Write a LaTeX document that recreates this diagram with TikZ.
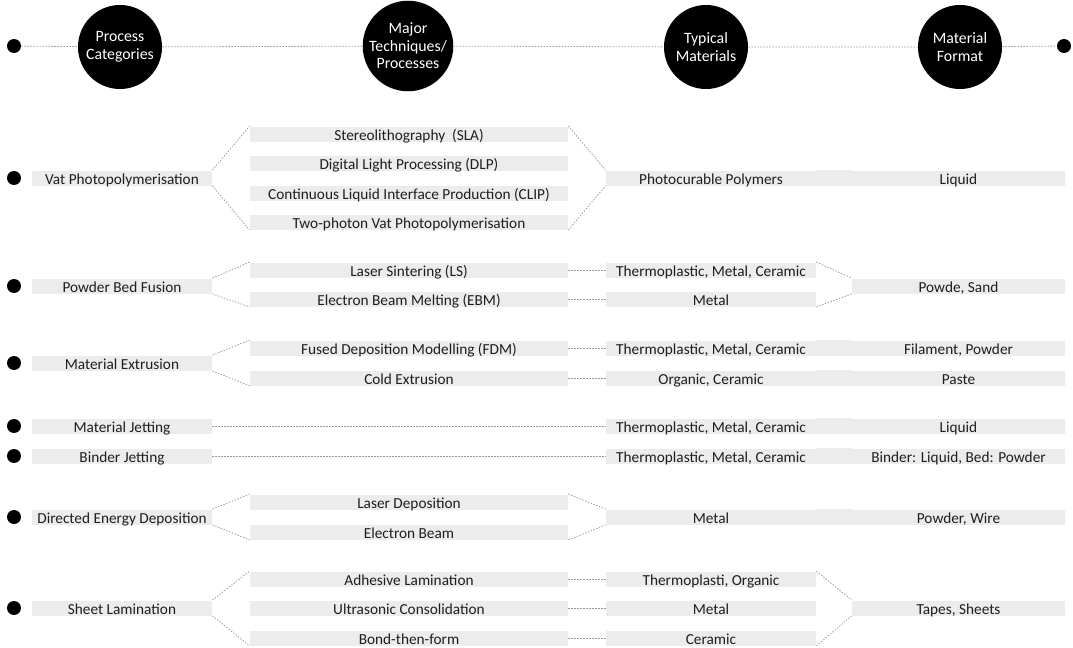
\documentclass[tikz,border=0pt]{standalone}
\usepackage{fontspec}
\setmainfont{Carlito}
\definecolor{barfill}{HTML}{ECECEC}
\definecolor{inkgray}{HTML}{1E1E1E}
\begin{document}
\begin{tikzpicture}[
    x=0.5pt, y=-0.5pt,
    every node/.style={font=\fontsize{7.65}{8.5}\selectfont, text=inkgray},
    catbox/.style={fill=barfill, minimum width=90pt, minimum height=7.5pt, inner sep=0pt, text height=6.4pt, text depth=0.3pt},
    techbox/.style={fill=barfill, minimum width=159pt, minimum height=7.5pt, inner sep=0pt, text height=6.4pt, text depth=0.3pt},
    matbox/.style={fill=barfill, minimum width=105pt, minimum height=7.5pt, inner sep=0pt, text height=6.4pt, text depth=0.3pt},
    fmtbox/.style={fill=barfill, minimum width=106.5pt, minimum height=7.5pt, inner sep=0pt, text height=6.4pt, text depth=0.3pt},
    headcircle/.style={circle, fill=black, minimum size=42pt, inner sep=0pt, align=center, text=white, font=\fontsize{7.9}{8.8}\selectfont},
    dot/.style={circle, fill=black, minimum size=7pt, inner sep=0pt},
    link/.style={gray!80, line width=0.4pt, dash pattern=on 0.7pt off 0.8pt},
]
\useasboundingbox (0,0) rectangle (1073,648);

% Header row
\node[dot] (ldot) at (14,46) {};
\node[dot] (rdot) at (1064,46) {};
\node[headcircle] (hcat) at (120,47) {Process\\Categories};
\node[headcircle] (htech) at (408,46) {Major\\Techniques/\\Processes};
\node[headcircle] (hmat) at (706,47) {Typical\\Materials};
\node[headcircle] (hfmt) at (960,47) {Material\\Format};
\draw[link] (ldot) -- (hcat) -- (htech) -- (hmat) -- (hfmt) -- (rdot);

% Vat photopolymerisation
\node[dot] (d1) at (14,178) {};
\node[catbox] (vat) at (122,178) {Vat Photopolymerisation};
\node[techbox] (sla) at (409,134) {Stereolithography~ (SLA)};
\node[techbox] (dlp) at (409,163) {Digital Light Processing (DLP)};
\node[techbox] (clip) at (409,193) {Continuous Liquid Interface Production (CLIP)};
\node[techbox] (tpp) at (409,222) {Two-photon Vat Photopolymerisation};
\node[matbox] (vatmat) at (711,178) {Photocurable Polymers};
\node[fmtbox] (vatfmt) at (958.5,178) {Liquid};
\fill[barfill] (vatmat.north east) rectangle (vatfmt.south west);
\draw[link] (vat.north east) -- (sla.north west);
\draw[link] (vat.south east) -- (tpp.south west);
\draw[link] (sla.north east) -- (vatmat.north west);
\draw[link] (tpp.south east) -- (vatmat.south west);

% Powder bed fusion
\node[dot] (d2) at (14,286) {};
\node[catbox] (pbf) at (122,286) {Powder Bed Fusion};
\node[techbox] (ls) at (409,270) {Laser Sintering (LS)};
\node[techbox] (ebm) at (409,299) {Electron Beam Melting (EBM)};
\node[matbox] (lsmat) at (711,270) {Thermoplastic, Metal, Ceramic};
\node[matbox] (ebmmat) at (711,299) {Metal};
\node[fmtbox] (pbffmt) at (958.5,286) {Powde, Sand};
\draw[link] (pbf.north east) -- (ls.north west);
\draw[link] (pbf.south east) -- (ebm.south west);
\draw[link] (ls) -- (lsmat);
\draw[link] (ebm) -- (ebmmat);
\draw[link] (lsmat.north east) -- (pbffmt.north west);
\draw[link] (ebmmat.south east) -- (pbffmt.south west);

% Material extrusion
\node[dot] (d3) at (14,363) {};
\node[catbox] (mex) at (122,363) {Material Extrusion};
\node[techbox] (fdm) at (409,348) {Fused Deposition Modelling (FDM)};
\node[techbox] (cold) at (409,378) {Cold Extrusion};
\node[matbox] (fdmmat) at (711,348) {Thermoplastic, Metal, Ceramic};
\node[matbox] (coldmat) at (711,378) {Organic, Ceramic};
\node[fmtbox] (fdmfmt) at (958.5,348) {Filament, Powder};
\node[fmtbox] (coldfmt) at (958.5,378) {Paste};
\fill[barfill] (fdmmat.north east) rectangle (fdmfmt.south west);
\fill[barfill] (coldmat.north east) rectangle (coldfmt.south west);
\draw[link] (mex.north east) -- (fdm.north west);
\draw[link] (mex.south east) -- (cold.south west);
\draw[link] (fdm) -- (fdmmat);
\draw[link] (cold) -- (coldmat);

% Material jetting
\node[dot] (d4) at (14,426) {};
\node[catbox] (mjet) at (122,426) {Material Jetting};
\node[matbox] (mjetmat) at (711,426) {Thermoplastic, Metal, Ceramic};
\node[fmtbox] (mjetfmt) at (958.5,426) {Liquid};
\fill[barfill] (mjetmat.north east) rectangle (mjetfmt.south west);
\draw[link] (mjet) -- (mjetmat);

% Binder jetting
\node[dot] (d5) at (14,456) {};
\node[catbox] (bjet) at (122,456) {Binder Jetting};
\node[matbox] (bjetmat) at (711,456) {Thermoplastic, Metal, Ceramic};
\node[fmtbox] (bjetfmt) at (958.5,456) {Binder: Liquid, Bed: Powder};
\fill[barfill] (bjetmat.north east) rectangle (bjetfmt.south west);
\draw[link] (bjet) -- (bjetmat);

% Directed energy deposition
\node[dot] (d6) at (14,517) {};
\node[catbox] (ded) at (122,517) {Directed Energy Deposition};
\node[techbox] (ldep) at (409,502) {Laser Deposition};
\node[techbox] (ebeam) at (409,532) {Electron Beam};
\node[matbox] (dedmat) at (711,517) {Metal};
\node[fmtbox] (dedfmt) at (958.5,517) {Powder, Wire};
\fill[barfill] (dedmat.north east) rectangle (dedfmt.south west);
\draw[link] (ded.north east) -- (ldep.north west);
\draw[link] (ded.south east) -- (ebeam.south west);
\draw[link] (ldep.north east) -- (dedmat.north west);
\draw[link] (ebeam.south east) -- (dedmat.south west);

% Sheet lamination
\node[dot] (d7) at (14,608) {};
\node[catbox] (slam) at (122,608) {Sheet Lamination};
\node[techbox] (adh) at (409,579) {Adhesive Lamination};
\node[techbox] (ultra) at (409,608) {Ultrasonic Consolidation};
\node[techbox] (bond) at (409,638) {Bond-then-form};
\node[matbox] (adhmat) at (711,579) {Thermoplasti, Organic};
\node[matbox] (ultramat) at (711,608) {Metal};
\node[matbox] (bondmat) at (711,638) {Ceramic};
\node[fmtbox] (slamfmt) at (958.5,608) {Tapes, Sheets};
\draw[link] (slam.north east) -- (adh.north west);
\draw[link] (slam.south east) -- (bond.south west);
\draw[link] (adh) -- (adhmat);
\draw[link] (ultra) -- (ultramat);
\draw[link] (bond) -- (bondmat);
\draw[link] (adhmat.north east) -- (slamfmt.north west);
\draw[link] (bondmat.south east) -- (slamfmt.south west);
\end{tikzpicture}
\end{document}
